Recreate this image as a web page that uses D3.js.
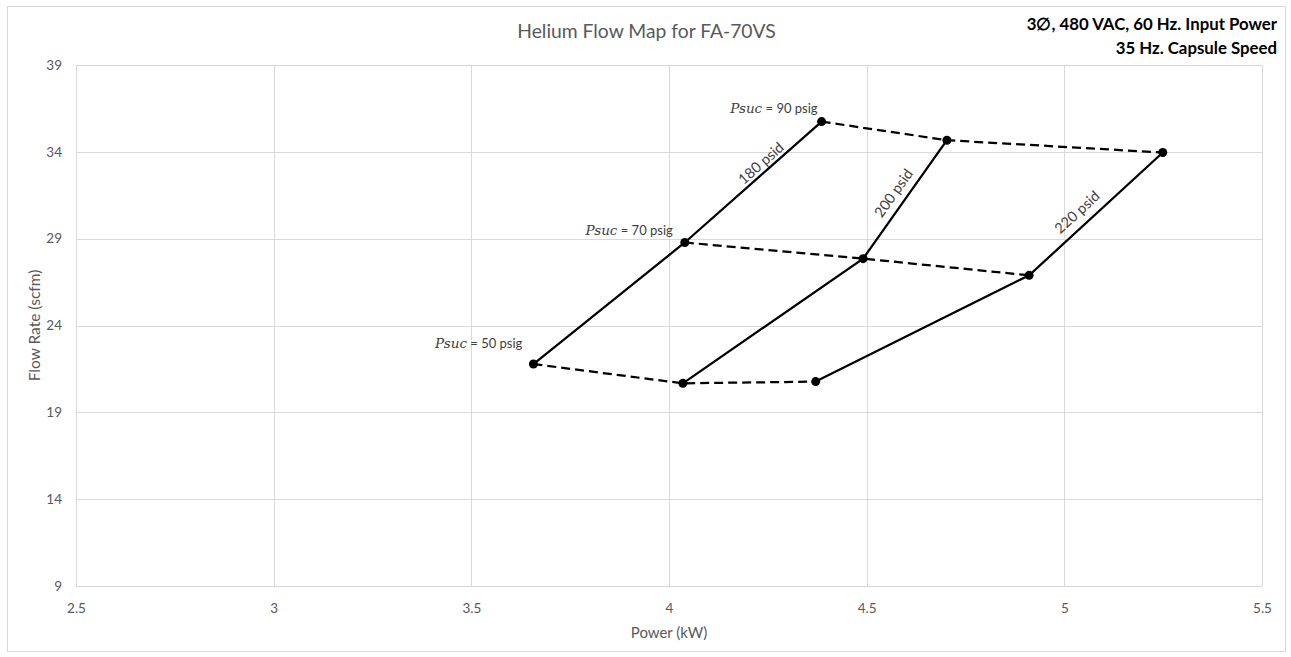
<!DOCTYPE html>
<html>
<head>
<meta charset="utf-8">
<script src="https://cdn.jsdelivr.net/npm/d3@7"></script>
<style>
  body { margin: 0; background: #fff; }
  text { font-family: Lato, "Open Sans", sans-serif; }
</style>
</head>
<body>
<div id="chart"></div>
<script>
// series: one line per differential pressure, points ordered by suction pressure
let psidNames = ["180 psid", "200 psid", "220 psid"];
let psucValues = [50, 70, 90];

let power180 = [3.657, 4.04, 4.386];
let flow180 = [21.78, 28.78, 35.74];
let power200 = [4.035, 4.491, 4.703];
let flow200 = [20.67, 27.85, 34.67];
let power220 = [4.371, 4.911, 5.249];
let flow220 = [20.77, 26.89, 33.96];

let xTicks = [2.5, 3, 3.5, 4, 4.5, 5, 5.5];
let yTicks = [9, 14, 19, 24, 29, 34, 39];

let title = "Helium Flow Map for FA-70VS";
let noteLines = ["3\u2205, 480 VAC, 60 Hz. Input Power", "35 Hz. Capsule Speed"];

// build point lists from the arrays
let series = [
    {name: psidNames[0], x: power180, y: flow180},
    {name: psidNames[1], x: power200, y: flow200},
    {name: psidNames[2], x: power220, y: flow220}
].map(s => ({name: s.name, pts: s.x.map((v, i) => ({x: v, y: s.y[i]}))}));

// dashed iso-suction lines join the i-th point of each series
let psucLines = psucValues.map((p, i) => ({psuc: p, pts: series.map(s => s.pts[i])}));

// label placement (styling, not data)
let psidLabelPos = [{t: 0.6, off: 9}, {t: 0.49, off: 13}, {t: 0.43, off: 14}];
let psucLabelOff = [{dx: -11, dy: -16}, {dx: -12, dy: -7}, {dx: -4, dy: -9}];

let width = 1291, height = 657;
let margin = {top: 65, right: 29, bottom: 71, left: 76};

let svg = d3.select("#chart").append("svg")
    .attr("width", width)
    .attr("height", height);

// chart border
svg.append("rect")
    .attr("x", 7.5).attr("y", 6.5)
    .attr("width", 1278).attr("height", 645)
    .attr("fill", "#fff")
    .attr("stroke", "#d9d9d9");

let xScale = d3.scaleLinear().domain([2.5, 5.5]).range([margin.left, width - margin.right]);
let yScale = d3.scaleLinear().domain([9, 39]).range([height - margin.bottom, margin.top]);

// gridlines
svg.append("g").selectAll("line").data(xTicks).enter().append("line")
    .attr("x1", d => Math.round(xScale(d)) + 0.5).attr("x2", d => Math.round(xScale(d)) + 0.5)
    .attr("y1", yScale(39)).attr("y2", yScale(9))
    .attr("stroke", "#d9d9d9");
svg.append("g").selectAll("line").data(yTicks).enter().append("line")
    .attr("y1", d => Math.round(yScale(d)) + 0.5).attr("y2", d => Math.round(yScale(d)) + 0.5)
    .attr("x1", xScale(2.5)).attr("x2", xScale(5.5))
    .attr("stroke", "#d9d9d9");

// axes (labels only)
let xAxis = svg.append("g")
    .attr("transform", "translate(0," + yScale(9) + ")")
    .call(d3.axisBottom(xScale).tickValues(xTicks).tickFormat(d3.format("")).tickSize(0).tickPadding(17));
let yAxis = svg.append("g")
    .attr("transform", "translate(" + xScale(2.5) + ",0)")
    .call(d3.axisLeft(yScale).tickValues(yTicks).tickSize(0).tickPadding(14));
[xAxis, yAxis].forEach(a => {
    a.select(".domain").remove();
    a.selectAll("text").attr("fill", "#595959").attr("font-size", "13.5px").attr("font-family", "Lato");
});

// axis titles
svg.append("text")
    .attr("x", (xScale(2.5) + xScale(5.5)) / 2)
    .attr("y", 638)
    .attr("text-anchor", "middle")
    .attr("fill", "#595959")
    .attr("font-size", "15px")
    .text("Power (kW)");
svg.append("text")
    .attr("transform", "translate(40," + (yScale(9) + yScale(39)) / 2 + ") rotate(-90)")
    .attr("text-anchor", "middle")
    .attr("fill", "#595959")
    .attr("font-size", "15.5px")
    .text("Flow Rate (scfm)");

// title
svg.append("text")
    .attr("x", 646.5).attr("y", 38)
    .attr("text-anchor", "middle")
    .attr("fill", "#595959")
    .attr("font-size", "19.3px")
    .text(title);

// top-right note
svg.append("g").selectAll("text").data(noteLines).enter().append("text")
    .attr("x", 1277)
    .attr("y", (d, i) => 30 + i * 23.5)
    .attr("text-anchor", "end")
    .attr("font-weight", "bold")
    .attr("fill", "#000")
    .attr("font-size", "16.8px")
    .text(d => d);

let line = d3.line().x(d => xScale(d.x)).y(d => yScale(d.y));

// dashed suction pressure lines
svg.append("g").selectAll("path").data(psucLines).enter().append("path")
    .attr("d", d => line(d.pts))
    .attr("fill", "none")
    .attr("stroke", "#000")
    .attr("stroke-width", 2.25)
    .attr("stroke-dasharray", "9,5");

// solid differential pressure lines
svg.append("g").selectAll("path").data(series).enter().append("path")
    .attr("d", d => line(d.pts))
    .attr("fill", "none")
    .attr("stroke", "#000")
    .attr("stroke-width", 2.25);

// markers
svg.append("g").selectAll("circle").data(series.flatMap(s => s.pts)).enter().append("circle")
    .attr("cx", d => xScale(d.x))
    .attr("cy", d => yScale(d.y))
    .attr("r", 4.5)
    .attr("fill", "#000");

// psid labels along the upper segment of each line
svg.append("g").selectAll("text").data(series).enter().append("text")
    .each(function (d, i) {
        let p1 = d.pts[1], p2 = d.pts[2];
        let x1 = xScale(p1.x), y1 = yScale(p1.y), x2 = xScale(p2.x), y2 = yScale(p2.y);
        let len = Math.hypot(x2 - x1, y2 - y1);
        let ux = (x2 - x1) / len, uy = (y2 - y1) / len;
        let pos = psidLabelPos[i];
        let cx = x1 + ux * len * pos.t + uy * pos.off;
        let cy = y1 + uy * len * pos.t - ux * pos.off;
        let ang = Math.atan2(y2 - y1, x2 - x1) * 180 / Math.PI;
        d3.select(this)
            .attr("transform", "translate(" + cx + "," + cy + ") rotate(" + ang + ")")
            .attr("text-anchor", "middle")
            .attr("dy", "0.35em");
    })
    .attr("fill", "#404040")
    .attr("font-size", "14.5px")
    .text(d => d.name);

// Psuc labels at the first series' points
let psucText = svg.append("g").selectAll("text").data(psucLines).enter().append("text")
    .attr("x", (d, i) => xScale(d.pts[0].x) + psucLabelOff[i].dx)
    .attr("y", (d, i) => yScale(d.pts[0].y) + psucLabelOff[i].dy)
    .attr("text-anchor", "end")
    .attr("fill", "#404040")
    .attr("font-size", "13px");
psucText.append("tspan")
    .attr("font-family", "'DejaVu Serif', 'Liberation Serif', serif")
    .attr("font-style", "italic")
    .attr("font-size", "13.5px")
    .text("Psuc");
psucText.append("tspan")
    .text(d => " = " + d.psuc + " psig");
</script>
</body>
</html>
